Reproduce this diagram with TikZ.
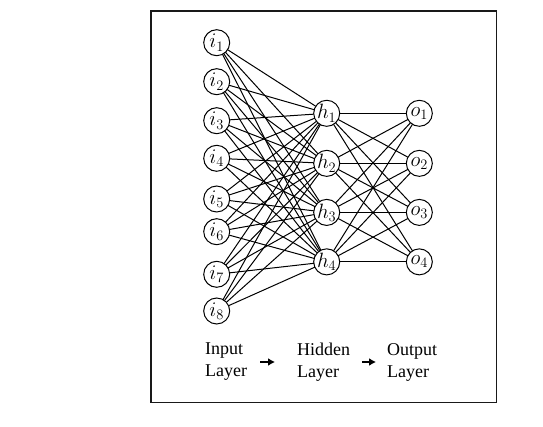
\documentclass[tikz,border=0pt]{standalone}
\usepackage{fontspec}
\setmainfont{Liberation Serif}
\usepackage{graphicx}
\usepackage{tikz}
\usetikzlibrary{shapes,arrows,arrows.meta,positioning}
\newcommand{\unitlabel}[1]{\scalebox{1.2}{$#1$}}

\begin{document}
\begin{tikzpicture}[x=1pt, y=1pt, neuron/.style = {circle, draw, line width=1pt, minimum size=26pt, inner sep=0pt, outer sep=0pt, font=\fontsize{17.28}{20}\selectfont}, line/.style = {draw, line width=1pt}, layer/.style = {align=left, inner sep=0pt, anchor=west, font=\fontsize{18}{22}\selectfont}, flow/.style = {draw, line width=1.8pt, -{Latex[length=7pt,width=8pt]}}, frame/.style = {draw, line width=1.4pt, black!90}]
					\useasboundingbox (0,0) rectangle (543,426);
					\path[frame] (151,23.7) rectangle (496.7,415);
					% input layer
					\node[neuron] (i1) at (216.7,383.3) {\unitlabel{i_1}};
					\node[neuron,below=13pt of i1] (i2) {\unitlabel{i_2}};
					\node[neuron,below=13pt of i2] (i3) {\unitlabel{i_3}};
					\node[neuron,below=11.6pt of i3] (i4) {\unitlabel{i_4}};
					\node[neuron,below=14.7pt of i4] (i5) {\unitlabel{i_5}};
					\node[neuron,below=6.7pt of i5] (i6) {\unitlabel{i_6}};
					\node[neuron,below=16.6pt of i6] (i7) {\unitlabel{i_7}};
					\node[neuron,below=10.7pt of i7] (i8) {\unitlabel{i_8}};
					% hidden layer
					\node[neuron] (h1) at (326.7,312.7) {\unitlabel{h_1}};
					\node[neuron,below=24pt of h1] (h2) {\unitlabel{h_2}};
					\node[neuron,below=23pt of h2] (h3) {\unitlabel{h_3}};
					\node[neuron,below=23.4pt of h3] (h4) {\unitlabel{h_4}};
					% output layer
					\node[neuron,right=66.6pt of h1] (o1) {\unitlabel{o_1}};
					\node[neuron,right=66.6pt of h2] (o2) {\unitlabel{o_2}};
					\node[neuron,right=66.6pt of h3] (o3) {\unitlabel{o_3}};
					\node[neuron,right=66.6pt of h4] (o4) {\unitlabel{o_4}};
					% captions
					\node[layer] (input) at (205,64) {Input\\Layer};
					\node[layer] (hidden) at (297,64) {Hidden\\Layer};
					\node[layer] (output) at (387,64) {Output\\Layer};
					
					\path[line] (i1) edge (h1) edge (h2) edge (h3) edge (h4);
					\path[line] (i2) edge (h1) edge (h2) edge (h3) edge (h4);
					\path[line] (i3) edge (h1) edge (h2) edge (h3) edge (h4);
					\path[line] (i4) edge (h1) edge (h2) edge (h3) edge (h4);
					\path[line] (i5) edge (h1) edge (h2) edge (h3) edge (h4);
					\path[line] (i6) edge (h1) edge (h2) edge (h3) edge (h4);
					\path[line] (i7) edge (h1) edge (h2) edge (h3) edge (h4);
					\path[line] (i8) edge (h1) edge (h2) edge (h3) edge (h4);
					\path[line] (h1) edge (o1) edge (o2) edge (o3) edge (o4);
					\path[line] (h2) edge (o1) edge (o2) edge (o3) edge (o4);
					\path[line] (h3) edge (o1) edge (o2) edge (o3) edge (o4);
					\path[line] (h4) edge (o1) edge (o2) edge (o3) edge (o4);
					\path[flow,shorten <=13pt,shorten >=22pt] (input) -- (hidden);
					\path[flow,shorten <=12pt,shorten >=11pt] (hidden) -- (output);
				\end{tikzpicture}
\end{document}
